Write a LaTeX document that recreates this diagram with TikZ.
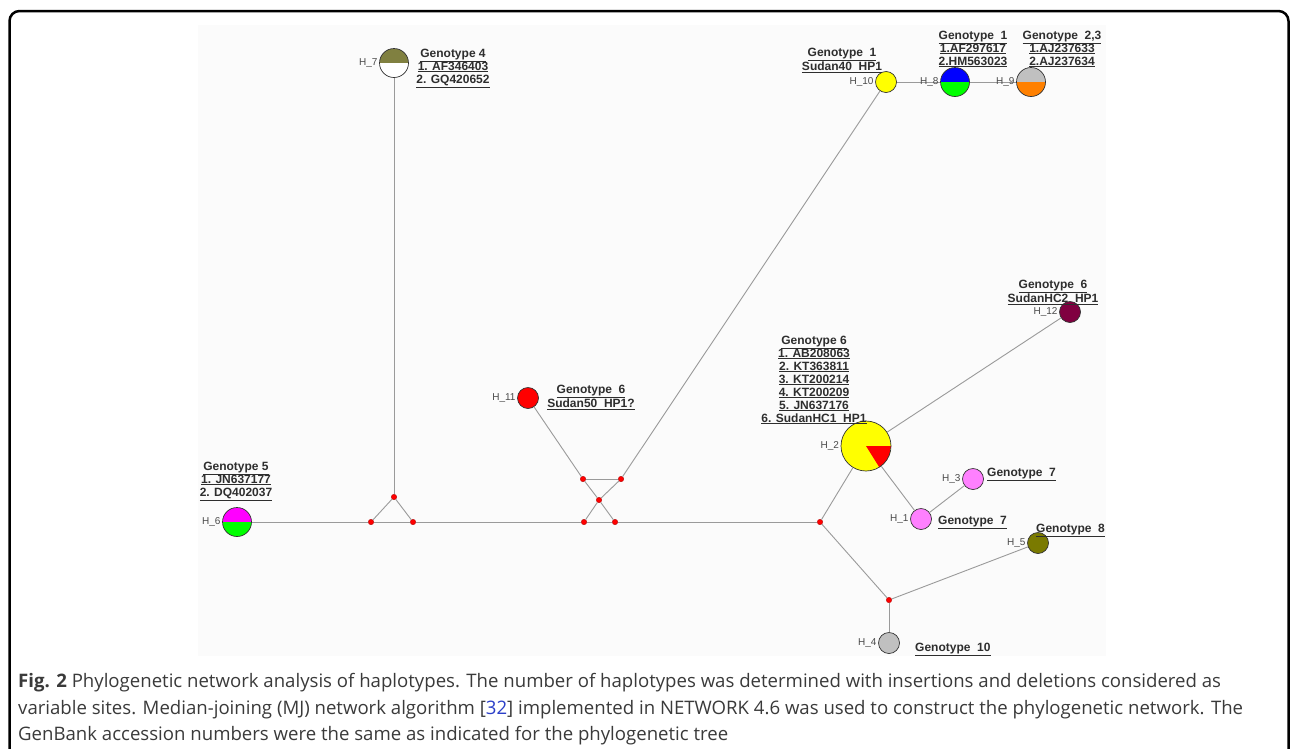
\documentclass[tikz,border=0pt]{standalone}
\usepackage{fontspec}
\setmainfont{Liberation Sans}
\newfontfamily\capfont{Open Sans}
\usetikzlibrary{positioning}
\definecolor{txt}{HTML}{2E2E2E}
\definecolor{lblc}{HTML}{4A4A4A}
\definecolor{bord}{HTML}{333333}
\definecolor{edgec}{HTML}{9A9A9A}
\definecolor{plotbg}{HTML}{FBFBFB}
\definecolor{captc}{HTML}{3A3A3A}
\definecolor{linkc}{HTML}{2B3FC8}
\definecolor{hyel}{HTML}{FFFF00}
\definecolor{hred}{HTML}{FF0000}
\definecolor{holive}{HTML}{808040}
\definecolor{holive2}{HTML}{7A7A00}
\definecolor{hmaroon}{HTML}{800040}
\definecolor{hpink}{HTML}{FF80FF}
\definecolor{hgray}{HTML}{C0C0C0}
\definecolor{horange}{HTML}{FF8000}
\definecolor{hblue}{HTML}{0000FF}
\definecolor{hgreen}{HTML}{00FF00}
\definecolor{hmag}{HTML}{FF00FF}
\newcommand{\uln}[1]{\underline{#1}}
\tikzset{
  hap/.style={circle, draw=bord, line width=0.7pt, inner sep=0pt, minimum size=21pt},
  halves/.style 2 args={hap, minimum size=29pt,
    path picture={\fill[#1] (path picture bounding box.north west) rectangle (path picture bounding box.east);
                  \fill[#2] (path picture bounding box.west) rectangle (path picture bounding box.south east);}},
  med/.style={circle, fill=hred, draw=red!65!black, line width=0.3pt, inner sep=0pt, minimum size=5.5pt},
  edge/.style={draw=edgec, line width=0.9pt},
  hl/.style={font=\fontsize{10}{11}\selectfont, text=lblc, inner sep=0pt},
  gt/.style={font=\fontsize{12}{13}\selectfont\bfseries, text=txt, align=center, inner sep=0pt},
  gtl/.style={font=\fontsize{12}{13}\selectfont\bfseries, text=txt, inner sep=0pt, anchor=base west},
  capline/.style={font=\capfont\fontsize{18.6}{27}\selectfont, text=captc, inner sep=0pt, anchor=base west}
}
\begin{document}
\begin{tikzpicture}[x=1pt,y=-1pt]
\useasboundingbox (0,0) rectangle (1290,748);
\fill[white] (0,0) rectangle (1290,748);
\fill[plotbg] (198,25) rectangle (1106,656);
\draw[line width=2.5pt, rounded corners=10pt] (9.5,770) -- (9.5,11) -- (1288.5,11) -- (1288.5,770);

% haplotype nodes
\node[halves={holive}{white}] (h7) at (394,63) {};
\node[halves={hmag}{hgreen}] (h6) at (237,522) {};
\node[hap, fill=hred] (h11) at (528,398) {};
\node[hap, fill=hyel] (h10) at (886,82) {};
\node[halves={hblue}{hgreen}] (h8) at (955,82) {};
\node[halves={hgray}{horange}] (h9) at (1031,82) {};
\node[hap, minimum size=50pt, fill=hyel,
  path picture={\fill[hred] (path picture bounding box.center) -- (path picture bounding box.east)
    arc[start angle=0, end angle=-58, radius=25pt] -- cycle;}] (h2) at (866,446) {};
\node[hap, fill=hmaroon] (h12) at (1070,312) {};
\node[hap, fill=hpink] (h3) at (973,479) {};
\node[hap, fill=hpink] (h1) at (921,519) {};
\node[hap, fill=holive2] (h5) at (1038,543) {};
\node[hap, fill=hgray] (h4) at (889,643) {};

% median vectors
\node[med] (m1) at (394,497) {};
\node[med] (m2) at (371,522) {};
\node[med] (m3) at (413,522) {};
\node[med] (m4) at (584,522) {};
\node[med] (m5) at (615,522) {};
\node[med] (m6) at (583,479) {};
\node[med] (m7) at (621,479) {};
\node[med] (mx) at (599,500) {};
\node[med] (m8) at (820,522) {};
\node[med] (m9) at (889,600) {};

% edges
\draw[edge] (h7) -- (m1);
\draw[edge] (m1) -- (m2);
\draw[edge] (m1) -- (m3);
\draw[edge] (h6) -- (m2);
\draw[edge] (m2) -- (m3);
\draw[edge] (m3) -- (m4);
\draw[edge] (m4) -- (m5);
\draw[edge] (m5) -- (m8);
\draw[edge] (h11) -- (m6);
\draw[edge] (m6) -- (m7);
\draw[edge] (m7) -- (h10);
\draw[edge] (m6) -- (mx);
\draw[edge] (mx) -- (m5);
\draw[edge] (m7) -- (mx);
\draw[edge] (mx) -- (m4);
\draw[edge] (h10) -- (h8);
\draw[edge] (h8) -- (h9);
\draw[edge] (m8) -- (h2);
\draw[edge] (h2) -- (h12);
\draw[edge] (h2) -- (h1);
\draw[edge] (h1) -- (h3);
\draw[edge] (m8) -- (m9);
\draw[edge] (m9) -- (h5);
\draw[edge] (m9) -- (h4);

% haplotype labels
\node[hl, left=1.5pt of h7] (l7) {H\_7};
\node[hl, left=1.5pt of h6] (l6) {H\_6};
\node[hl, left=1.5pt of h11] (l11) {H\_11};
\node[hl, left=1.5pt of h10] (l10) {H\_10};
\node[hl, left=1.5pt of h8] (l8) {H\_8};
\node[hl, left=1.5pt of h9] (l9) {H\_9};
\node[hl, left=1.5pt of h2] (l2) {H\_2};
\node[hl, left=1.5pt of h12] (l12) {H\_12};
\node[hl, left=1.5pt of h3] (l3) {H\_3};
\node[hl, left=1.5pt of h1] (l1) {H\_1};
\node[hl, left=1.5pt of h5] (l5) {H\_5};
\node[hl, left=1.5pt of h4] (l4) {H\_4};

% genotype texts
\node[gt] (t7) at (453,68) {\uln{Genotype 4}\\\uln{1. AF346403}\\\uln{2. GQ420652}};
\node[gt] (t6) at (236,481) {\uln{Genotype 5}\\\uln{1. JN637177}\\\uln{2. DQ402037}};
\node[gt] (t11) at (591,397) {\uln{Genotype\ \ 6}\\\uln{Sudan50\ \ HP1?}};
\node[gt] (t10) at (842,60) {\uln{Genotype\ \ 1}\\\uln{Sudan40\ \ HP1}};
\node[gt] (t8) at (973,49) {\uln{Genotype\ \ 1}\\\uln{1.AF297617}\\\uln{2.HM563023}};
\node[gt] (t9) at (1062,49) {\uln{Genotype\ \ 2,3}\\\uln{1.AJ237633}\\\uln{2.AJ237634}};
\node[gt] (t2) at (814,380) {\uln{Genotype 6}\\\uln{1. AB208063}\\\uln{2. KT363811}\\\uln{3. KT200214}\\\uln{4. KT200209}\\\uln{5. JN637176}\\\uln{6. SudanHC1\ \ HP1}};
\node[gt] (t12) at (1053,292) {\uln{Genotype\ \ 6}\\\uln{SudanHC2\ \ HP1}};
\node[gtl] (t3) at (987,476) {\uln{Genotype\ \ 7}};
\node[gtl] (t1) at (938,524) {\uln{Genotype\ \ 7}};
\node[gtl] (t5) at (1036,532) {\uln{Genotype\ \ 8}};
\node[gtl] (t4) at (915,651) {\uln{Genotype\ \ 10}};

% caption
\node[capline] (c1) at (18,687) {\textbf{Fig. 2} Phylogenetic network analysis of haplotypes. The number of haplotypes was determined with insertions and deletions considered as};
\node[capline] (c2) at (18,714) {variable sites. Median-joining (MJ) network algorithm [\textcolor{linkc}{32}] implemented in NETWORK 4.6 was used to construct the phylogenetic network. The};
\node[capline] (c3) at (18,740) {GenBank accession numbers were the same as indicated for the phylogenetic tree};
\end{tikzpicture}
\end{document}
